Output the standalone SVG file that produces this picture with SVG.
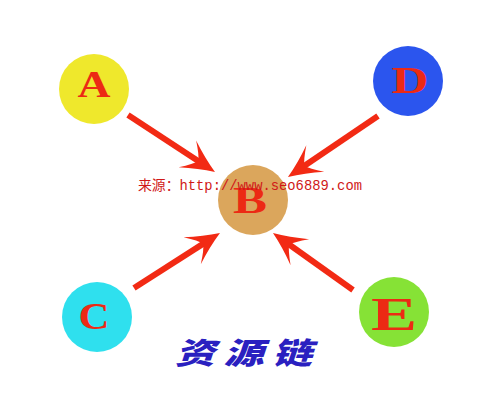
<svg xmlns="http://www.w3.org/2000/svg" width="500" height="400" viewBox="0 0 500 400">
<style>
.lbl{font-family:"Liberation Serif","DejaVu Serif",serif;font-weight:bold;fill:#ec2a14;text-anchor:middle}
.arr{stroke:#f22a14;stroke-width:6;fill:none;marker-end:url(#head)}
</style>
<defs>
<marker id="head" markerUnits="userSpaceOnUse" viewBox="-36 -18 38 36" refX="-16" refY="0" markerWidth="38" markerHeight="36" orient="auto">
<path d="M0,0 Q-16,-6 -33,-16 Q-22,-5 -20,0 Q-22,5 -33,16 Q-16,6 0,0 Z" fill="#f22a14"/>
</marker>
</defs>
<rect width="500" height="400" fill="#ffffff"/>
<g id="connectors">
<line class="arr" x1="128" y1="115" x2="201.6" y2="163.2"/>
<line class="arr" x1="378" y1="116" x2="301.2" y2="168"/>
<line class="arr" x1="134" y1="288" x2="206.5" y2="241.6"/>
<line class="arr" x1="353" y1="290" x2="286" y2="242.3"/>
</g>
<g id="node-A">
<circle cx="94" cy="89" r="35" fill="#efe82c"/>
<text class="lbl" x="94" y="97" font-size="38" textLength="33" lengthAdjust="spacingAndGlyphs">A</text>
</g>
<g id="node-D">
<circle cx="408" cy="81" r="35" fill="#2b55ee"/>
<text class="lbl" x="410" y="93" font-size="37" textLength="37" lengthAdjust="spacingAndGlyphs">D</text>
</g>
<g id="node-C">
<circle cx="97" cy="317" r="35" fill="#2fe0ee"/>
<text class="lbl" x="94" y="329" font-size="37" textLength="31" lengthAdjust="spacingAndGlyphs">C</text>
</g>
<g id="node-E">
<circle cx="394" cy="312" r="35" fill="#86e236"/>
<text class="lbl" x="394" y="330" font-size="46" textLength="46" lengthAdjust="spacingAndGlyphs">E</text>
</g>
<g id="node-B">
<circle cx="253" cy="200" r="35" fill="#dba65c"/>
<text class="lbl" x="250" y="213" font-size="38" textLength="34" lengthAdjust="spacingAndGlyphs">B</text>
</g>
<text x="138" y="190" font-family="'Liberation Mono','Noto Sans CJK SC',monospace" font-size="14" fill="#d01818" textLength="224" lengthAdjust="spacingAndGlyphs">来源：http://www.seo6889.com</text>
<text transform="translate(175,364) scale(1,0.75) skewX(-14)" x="0" y="0" font-family="'Noto Sans CJK SC',sans-serif" font-weight="900" font-size="40" fill="#2a20c0" textLength="137" lengthAdjust="spacing">资源链</text>
</svg>
